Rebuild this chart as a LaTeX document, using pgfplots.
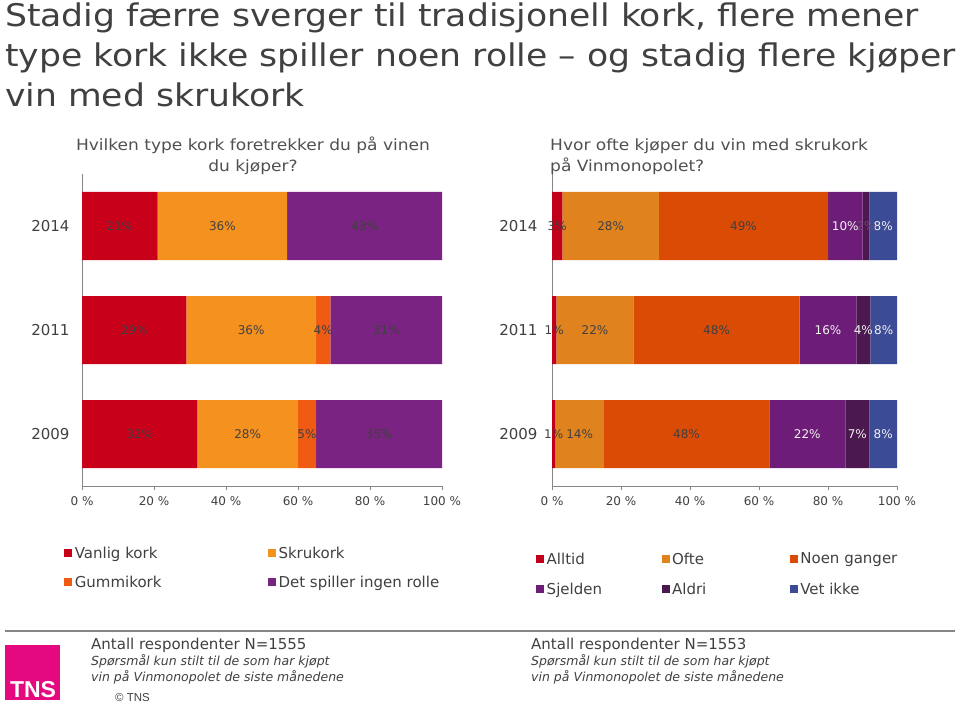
\documentclass[border=0pt]{standalone}
\usepackage{fontspec}
\setmainfont{DejaVu Sans}
\newfontfamily\widefont[FakeStretch=1.1]{DejaVu Sans}
\newfontfamily\titlefont[FakeStretch=1.11]{DejaVu Sans}
\newfontfamily\arialfont{Liberation Sans}
\usepackage{pgfplots}
\pgfplotsset{compat=1.18}
\usepackage{pgfplotstable}

\definecolor{txt}{HTML}{404040}
\definecolor{subtxt}{HTML}{505050}
\definecolor{axgray}{HTML}{868686}
\definecolor{vanlig}{HTML}{C8001A}
\definecolor{skru}{HTML}{F5911E}
\definecolor{gummi}{HTML}{F05A12}
\definecolor{spiller}{HTML}{7B2382}
\definecolor{alltid}{HTML}{C0001A}
\definecolor{ofte}{HTML}{E0831F}
\definecolor{noen}{HTML}{DA4B05}
\definecolor{sjelden}{HTML}{6D1D78}
\definecolor{aldri}{HTML}{4B1850}
\definecolor{vet}{HTML}{3C4B96}
\definecolor{lightlbl}{HTML}{F2F2F2}
\definecolor{faint}{HTML}{6A4A78}
\definecolor{tnsmag}{HTML}{E5097F}

% left: which cork do you prefer (percent)
\pgfplotstableread{
pos vanlig skru gummi spiller
0   32     28   5     35
1   29     36   4     31
2   21     36   0     43
}\korkdata

% right: how often do you buy screw cap wine (percent)
\pgfplotstableread{
pos alltid ofte noen sjelden aldri vet
0   1      14   48   22      7     8
1   1.3    22.3 48.2 16.4    4.1   7.7
2   3      28   49   10      2     8
}\skrudata

\newcommand\barlabel{\ifdim\rawv pt<0.5pt\else\pgfmathprintnumber[fixed,precision=0]{\rawv}\%\fi}

\pgfplotsset{
  /pgf/number format/assume math mode=true,
  seg/.style 2 args={
    fill=#1, draw=none,
    visualization depends on={rawx \as \rawv},
    nodes near coords={\barlabel},
    every node near coord/.append style={
      font=\fontsize{12}{14}\selectfont, text=#2, anchor=center},
  },
  stackaxis/.style={
    scale only axis, anchor=south west,
    height=312pt,
    xbar stacked, bar width=68pt,
    xmin=0, xmax=100, ymin=-0.5, ymax=2.5,
    axis x line*=bottom, axis y line*=left,
    axis line style={axgray, line width=0.8pt},
    xtick={0,20,...,100},
    xticklabel={\pgfmathprintnumber{\tick}~\%},
    xticklabel style={font=\fontsize{12}{14}\selectfont, text=txt, yshift=-3pt},
    x tick style={axgray, line width=0.8pt}, xtick align=outside, major tick length=4pt,
    ytick={0,1,2}, yticklabels={2009,2011,2014},
    y tick style={draw=none},
    yticklabel style={font=\fontsize{15}{18}\selectfont, text=txt, xshift=-9pt},
    set layers=standard, mark layer=axis foreground,
    legend cell align=left,
    legend image code/.code={\fill[##1] (0pt,-4pt) rectangle (8pt,4pt);},
    legend style={draw=none, fill=none, font=\fontsize{15}{18}\selectfont,
      text=txt, nodes={inner sep=1.5pt},
      /tikz/every odd column/.append style={column sep=1pt}},
  },
}

\begin{document}
\begin{tikzpicture}
\path (0pt,0pt) rectangle (960pt,705pt);

\begin{axis}[stackaxis, at={(82pt,219pt)}, width=360pt,
  legend columns=2,
  legend style={at={(-0.058,-0.183)}, anchor=north west, row sep=13pt,
    /tikz/column 2/.style={column sep=105pt}}]
\addplot[seg={vanlig}{txt}] table[x=vanlig, y=pos] {\korkdata};
\addplot[seg={skru}{txt}] table[x=skru, y=pos] {\korkdata};
\addplot[seg={gummi}{txt}] table[x=gummi, y=pos] {\korkdata};
\addplot[seg={spiller}{txt}] table[x=spiller, y=pos] {\korkdata};
\legend{Vanlig kork, Skrukork, Gummikork, Det spiller ingen rolle}
\end{axis}

\begin{axis}[stackaxis, at={(552pt,219pt)}, width=345pt,
  yticklabel style={xshift=-2pt},
  legend columns=3,
  legend style={at={(-0.055,-0.202)}, anchor=north west, row sep=14pt,
    /tikz/column 2/.style={column sep=58pt},
    /tikz/column 4/.style={column sep=82pt}}]
\addplot[seg={alltid}{txt}] table[x=alltid, y=pos] {\skrudata};
\addplot[seg={ofte}{txt}] table[x=ofte, y=pos] {\skrudata};
\addplot[seg={noen}{txt}] table[x=noen, y=pos] {\skrudata};
\addplot[seg={sjelden}{lightlbl}] table[x=sjelden, y=pos] {\skrudata};
\addplot[seg={aldri}{lightlbl},
  nodes near coords={\ifdim\rawv pt<3pt\color{faint}\fi\pgfmathprintnumber[fixed,precision=0]{\rawv}\%}]
  table[x=aldri, y=pos] {\skrudata};
\addplot[seg={vet}{lightlbl}] table[x=vet, y=pos] {\skrudata};
\legend{Alltid, Ofte, Noen ganger, Sjelden, Aldri, Vet ikke}
\end{axis}

% title
\begin{scope}[every node/.style={anchor=base west, inner sep=0pt, text=txt,
    font=\titlefont\fontsize{31.2}{38}\selectfont}]
\node at (5pt,678pt) {Stadig færre sverger til tradisjonell kork, flere mener};
\node at (5pt,638pt) {type kork ikke spiller noen rolle – og stadig flere kjøper};
\node at (5pt,598pt) {vin med skrukork};
\end{scope}

% subtitles
\begin{scope}[every node/.style={inner sep=0pt, text=subtxt,
    font=\widefont\fontsize{15.5}{19}\selectfont}]
\node[anchor=base] at (253pt,554pt) {Hvilken type kork foretrekker du på vinen};
\node[anchor=base] at (253pt,533pt) {du kjøper?};
\node[anchor=base west] at (550pt,554pt) {Hvor ofte kjøper du vin med skrukork};
\node[anchor=base west] at (550pt,533pt) {på Vinmonopolet?};
\end{scope}

% footer
\draw[axgray, line width=1.5pt] (5pt,74pt) -- (955pt,74pt);
\fill[tnsmag] (5pt,5pt) rectangle (60pt,60pt);
\node[anchor=base, inner sep=0pt, text=white, font=\arialfont\bfseries\fontsize{23}{26}\selectfont]
  at (33pt,8pt) {TNS};
\begin{scope}[every node/.style={anchor=base west, inner sep=0pt, text=txt}]
\node[font=\fontsize{15}{18}\selectfont] at (91pt,56pt) {Antall respondenter N=1555};
\node[font=\itshape\fontsize{12.5}{15}\selectfont] at (91pt,40pt) {Spørsmål kun stilt til de som har kjøpt};
\node[font=\itshape\fontsize{12.5}{15}\selectfont] at (91pt,24pt) {vin på Vinmonopolet de siste månedene};
\node[font=\arialfont\fontsize{11.5}{14}\selectfont] at (115pt,4pt) {© TNS};
\node[font=\fontsize{15}{18}\selectfont] at (531pt,56pt) {Antall respondenter N=1553};
\node[font=\itshape\fontsize{12.5}{15}\selectfont] at (531pt,40pt) {Spørsmål kun stilt til de som har kjøpt};
\node[font=\itshape\fontsize{12.5}{15}\selectfont] at (531pt,24pt) {vin på Vinmonopolet de siste månedene};
\end{scope}
\end{tikzpicture}
\end{document}
